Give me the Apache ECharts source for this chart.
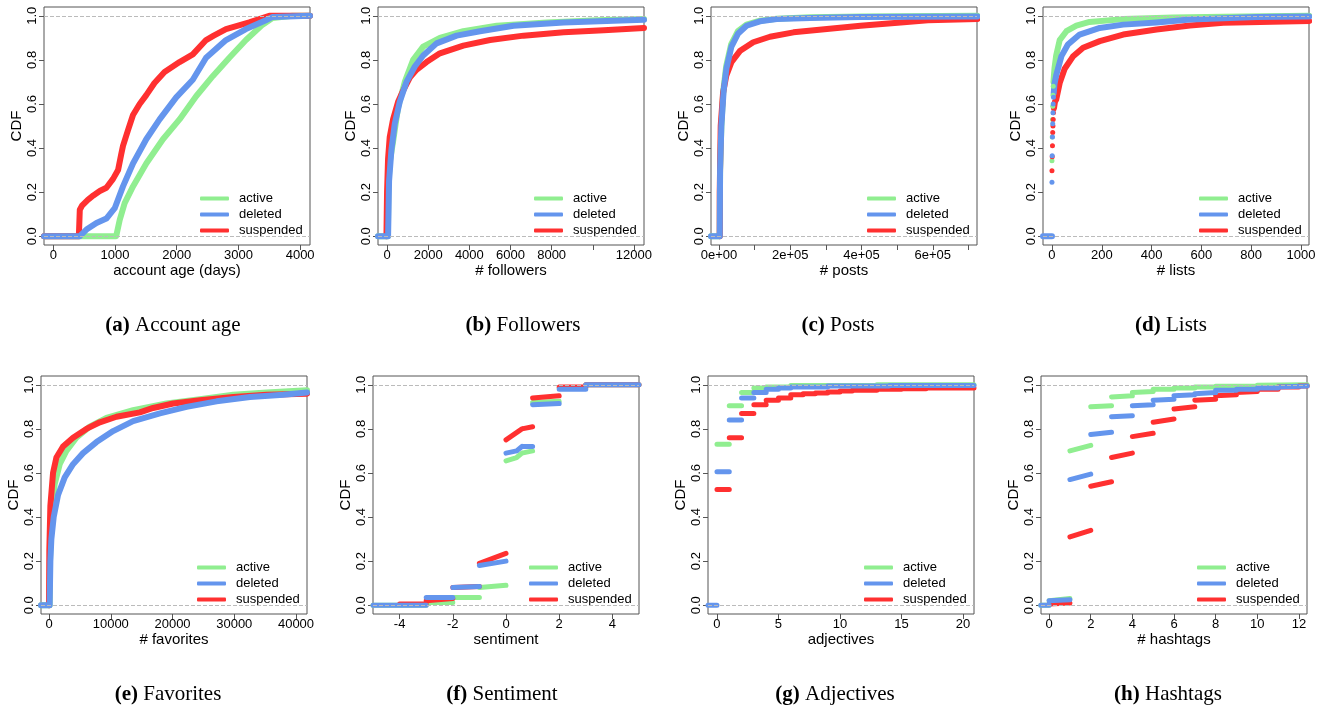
<!DOCTYPE html>
<html>
<head>
<meta charset="utf-8">
<script src="https://cdn.jsdelivr.net/npm/echarts@6/dist/echarts.min.js"></script>
<style>
  html, body { margin: 0; padding: 0; background: #fff; }
  #chart { width: 1325px; height: 705px; }
</style>
</head>
<body>
<div id="chart"></div>
<script>
// series names and colours
var groups = ['active', 'deleted', 'suspended'];
var colors = { active: '#90EE90', deleted: '#6495ED', suspended: '#FF3030' };

// (a) account age, [days, cdf]
var ageActive = [[-150, 0], [1020, 0], [1077, 0.074], [1157, 0.15], [1292, 0.226], [1507, 0.33], [1777, 0.44], [2046, 0.53], [2315, 0.635], [2584, 0.726], [2853, 0.81], [3122, 0.89], [3392, 0.96], [3553, 0.99], [3876, 1.0], [4160, 1.0]];
var ageDeleted = [[-150, 0], [430, 0], [538, 0.03], [700, 0.06], [861, 0.08], [996, 0.127], [1130, 0.226], [1292, 0.33], [1507, 0.44], [1723, 0.53], [1992, 0.63], [2261, 0.71], [2476, 0.81], [2799, 0.89], [3122, 0.94], [3445, 0.98], [3553, 0.995], [4160, 1.0]];
var ageSuspended = [[-150, 0], [415, 0], [430, 0.12], [470, 0.14], [560, 0.165], [650, 0.185], [754, 0.205], [861, 0.22], [969, 0.26], [1050, 0.30], [1100, 0.37], [1130, 0.41], [1210, 0.48], [1292, 0.55], [1400, 0.60], [1507, 0.64], [1640, 0.695], [1803, 0.745], [2046, 0.79], [2261, 0.825], [2476, 0.89], [2600, 0.91], [2799, 0.94], [3176, 0.97], [3500, 1.0], [4160, 1.0]];

// (b) followers
var follActive = [[-440, 0], [40, 0], [60, 0.2], [120, 0.33], [293, 0.43], [537, 0.585], [862, 0.70], [1268, 0.80], [1756, 0.86], [2569, 0.90], [3707, 0.93], [5333, 0.955], [7772, 0.97], [10211, 0.98], [12490, 0.985]];
var follDeleted = [[-440, 0], [50, 0], [70, 0.1], [98, 0.25], [211, 0.39], [374, 0.51], [618, 0.61], [943, 0.70], [1350, 0.77], [1756, 0.82], [2407, 0.875], [3382, 0.91], [4520, 0.93], [6146, 0.955], [8585, 0.97], [11024, 0.978], [12490, 0.982]];
var follSuspended = [[-30, 0], [0, 0.2], [49, 0.35], [130, 0.45], [293, 0.53], [537, 0.61], [780, 0.66], [1106, 0.72], [1431, 0.755], [1919, 0.79], [2569, 0.83], [3707, 0.865], [5008, 0.89], [6634, 0.91], [8585, 0.925], [10537, 0.935], [12490, 0.945]];

// (c) posts
var postsActive = [[-22500, 0], [2000, 0], [3000, 0.3], [6600, 0.5], [12000, 0.66], [20000, 0.77], [34000, 0.87], [53000, 0.93], [77000, 0.96], [115000, 0.978], [162000, 0.987], [256000, 0.993], [400000, 0.997], [725000, 1.0]];
var postsDeleted = [[-22500, 0], [2000, 0], [3000, 0.3], [6600, 0.5], [13000, 0.66], [20700, 0.76], [34800, 0.86], [53700, 0.92], [77200, 0.955], [115000, 0.975], [162000, 0.985], [256000, 0.99], [397000, 0.995], [725000, 0.997]];
var postsSuspended = [[2000, 0], [2000, 0.2], [4700, 0.5], [11300, 0.65], [20700, 0.73], [34800, 0.79], [58400, 0.84], [96000, 0.88], [143000, 0.905], [209000, 0.925], [303000, 0.94], [397000, 0.955], [510000, 0.97], [586000, 0.98], [725000, 0.985]];

// (d) lists: single points near zero, then the dense tail
var listsActiveDots = [[0, 0.342], [1, 0.45], [2, 0.53], [3, 0.59], [4, 0.64], [5, 0.68]];
var listsDeletedDots = [[0, 0.245], [1, 0.365], [2, 0.45], [3, 0.51], [4, 0.56], [5, 0.60], [6, 0.63]];
var listsSuspendedDots = [[0, 0.297], [1, 0.36], [2, 0.41], [3, 0.47], [4, 0.50], [5, 0.53], [6, 0.56]];
var listsActive = [[6, 0.70], [10, 0.76], [17, 0.82], [31, 0.89], [58, 0.93], [98, 0.955], [151, 0.972], [286, 0.985], [487, 0.992], [688, 0.996], [1033, 1.0]];
var listsDeleted = [[-36, 0], [0, 0], null, [7, 0.65], [10, 0.69], [17, 0.73], [38, 0.817], [64, 0.87], [111, 0.915], [192, 0.945], [286, 0.96], [420, 0.97], [554, 0.983], [822, 0.995], [1033, 0.997]];
var listsSuspended = [[8, 0.58], [12, 0.61], [17, 0.62], [31, 0.695], [51, 0.76], [84, 0.815], [125, 0.855], [192, 0.885], [286, 0.915], [420, 0.938], [554, 0.956], [688, 0.968], [1033, 0.976]];

// (e) favorites
var favActive = [[-1300, 0], [100, 0], [150, 0.2], [378, 0.4], [919, 0.55], [1730, 0.64], [2810, 0.70], [4430, 0.76], [6590, 0.81], [9300, 0.85], [13620, 0.885], [19030, 0.915], [24430, 0.935], [29840, 0.955], [35240, 0.965], [41780, 0.975]];
var favDeleted = [[-1300, 0], [100, 0], [216, 0.2], [378, 0.3], [757, 0.4], [1460, 0.5], [2540, 0.58], [3890, 0.64], [5510, 0.69], [7680, 0.74], [10380, 0.79], [13620, 0.835], [17950, 0.87], [22270, 0.90], [27140, 0.925], [32540, 0.945], [37950, 0.955], [41780, 0.965]];
var favSuspended = [[0, 0], [50, 0.25], [216, 0.45], [649, 0.6], [1190, 0.67], [2270, 0.72], [3890, 0.76], [6050, 0.80], [8220, 0.83], [10920, 0.855], [14700, 0.875], [16860, 0.895], [20100, 0.915], [24430, 0.93], [29840, 0.945], [35240, 0.955], [41780, 0.96]];

// (f) sentiment, steps [x0, x1, y0, y1]
var sentActive = [[-5, -3, 0, 0], [-3, -2, 0.012, 0.012], [-2, -1, 0.035, 0.035], [-1, 0, 0.08, 0.09], [0, 0.4, 0.655, 0.67], [0.4, 0.6, 0.67, 0.69], [0.6, 1, 0.69, 0.70], [1, 2, 0.92, 0.925], [2, 3, 0.985, 0.985], [3, 5, 1, 1]];
var sentDeleted = [[-5, -3, 0, 0], [-3, -2, 0.035, 0.035], [-2, -1, 0.08, 0.085], [-1, 0, 0.18, 0.20], [0, 0.4, 0.69, 0.70], [0.4, 0.6, 0.70, 0.72], [0.6, 1, 0.72, 0.72], [1, 2, 0.91, 0.915], [2, 3, 0.98, 0.98], [3, 5, 1, 1]];
var sentSuspended = [[-4, -3, 0.005, 0.005], [-3, -2, 0.02, 0.03], [-2, -1, 0.08, 0.085], [-1, 0, 0.19, 0.235], [0, 0.6, 0.75, 0.80], [0.6, 1, 0.80, 0.81], [1, 2, 0.94, 0.95], [2, 3, 0.99, 0.99], [3, 5, 1, 1]];

// (g) adjectives
var adjActive = [[0, 1, 0.73, 0.73], [1, 2, 0.905, 0.905], [2, 3, 0.965, 0.965], [3, 4, 0.985, 0.985], [4, 6, 0.99, 0.99], [6, 13, 0.997, 0.997], [13, 20.9, 1.0, 1.0]];
var adjDeleted = [[-0.73, 0, 0, 0], [0, 1, 0.605, 0.605], [1, 2, 0.84, 0.84], [2, 3, 0.94, 0.94], [3, 4, 0.965, 0.965], [4, 5, 0.98, 0.98], [5, 6, 0.985, 0.985], [6, 9, 0.99, 0.99], [9, 14, 0.995, 0.995], [14, 20.9, 0.997, 0.997]];
var adjSuspended = [[0, 1, 0.525, 0.525], [1, 2, 0.76, 0.76], [2, 3, 0.87, 0.87], [3, 4, 0.91, 0.91], [4, 5, 0.93, 0.93], [5, 6, 0.94, 0.94], [6, 7, 0.955, 0.955], [7, 8, 0.96, 0.96], [8, 9, 0.963, 0.963], [9, 10, 0.967, 0.967], [10, 11, 0.972, 0.972], [11, 13, 0.975, 0.975], [13, 15, 0.98, 0.98], [15, 17, 0.982, 0.982], [17, 20.9, 0.985, 0.985]];

// (h) hashtags
var hashActive = [[-0.4, 0, 0, 0], [0, 1, 0.02, 0.03], [1, 2, 0.70, 0.725], [2, 3, 0.90, 0.905], [3, 4, 0.945, 0.95], [4, 5, 0.965, 0.97], [5, 6, 0.98, 0.98], [6, 7, 0.985, 0.985], [7, 8, 0.99, 0.99], [8, 10, 0.993, 0.995], [10, 12.4, 0.998, 1.0]];
var hashDeleted = [[-0.4, 0, 0, 0], [0, 1, 0.02, 0.025], [1, 2, 0.57, 0.595], [2, 3, 0.775, 0.785], [3, 4, 0.855, 0.86], [4, 5, 0.905, 0.91], [5, 6, 0.93, 0.935], [6, 7, 0.95, 0.955], [7, 8, 0.96, 0.965], [8, 9, 0.975, 0.975], [9, 10, 0.98, 0.98], [10, 11, 0.985, 0.985], [11, 12.4, 0.99, 0.995]];
var hashSuspended = [[0, 1, 0.005, 0.01], [1, 2, 0.31, 0.34], [2, 3, 0.54, 0.56], [3, 4, 0.67, 0.69], [4, 5, 0.765, 0.78], [5, 6, 0.83, 0.845], [6, 7, 0.89, 0.9], [7, 8, 0.93, 0.935], [8, 9, 0.95, 0.955], [9, 10, 0.965, 0.97], [10, 11, 0.98, 0.98], [11, 12, 0.99, 0.99], [12, 12.4, 0.995, 0.995]];

// tick positions
var cdfTicks = [0, 0.2, 0.4, 0.6, 0.8, 1.0];

function steps(segs) {
    var out = [];
    segs.forEach(function (s) {
        out.push([s[0], s[2]], [s[1], s[3]], null);
    });
    return out;
}

var panels = [
    { left: 44, top: 7, min: -150, max: 4160, ticks: [0, 1000, 2000, 3000, 4000], name: 'account age (days)', tag: '(a)', caption: 'Account age', cx: 168,
      lines: [ageActive, ageDeleted, ageSuspended] },
    { left: 378, top: 7, min: -440, max: 12490, ticks: [0, 2000, 4000, 6000, 8000, 10000, 12000], labels: [0, 2000, 4000, 6000, 8000, 12000], name: '# followers', tag: '(b)', caption: 'Followers', cx: 518,
      lines: [follActive, follDeleted, follSuspended] },
    { left: 711, top: 7, min: -22500, max: 724000, ticks: [0, 1e5, 2e5, 3e5, 4e5, 5e5, 6e5, 7e5], labels: [0, 2e5, 4e5, 6e5], sci: true, name: '# posts', tag: '(c)', caption: 'Posts', cx: 833,
      lines: [postsActive, postsDeleted, postsSuspended] },
    { left: 1043, top: 7, min: -36, max: 1032, ticks: [0, 200, 400, 600, 800, 1000], name: '# lists', tag: '(d)', caption: 'Lists', cx: 1166,
      lines: [listsActive, listsDeleted, listsSuspended], dots: [listsActiveDots, listsDeletedDots, listsSuspendedDots] },
    { left: 41, top: 376, min: -1300, max: 41780, ticks: [0, 10000, 20000, 30000, 40000], name: '# favorites', tag: '(e)', caption: 'Favorites', cx: 163,
      lines: [favActive, favDeleted, favSuspended] },
    { left: 373, top: 376, min: -5, max: 5, ticks: [-4, -2, 0, 2, 4], name: 'sentiment', tag: '(f)', caption: 'Sentiment', cx: 497,
      lines: [steps(sentActive), steps(sentDeleted), steps(sentSuspended)], thin: true },
    { left: 708, top: 376, min: -0.73, max: 20.9, ticks: [0, 5, 10, 15, 20], name: 'adjectives', tag: '(g)', caption: 'Adjectives', cx: 830,
      lines: [steps(adjActive), steps(adjDeleted), steps(adjSuspended)], thin: true },
    { left: 1041, top: 376, min: -0.39, max: 12.39, ticks: [0, 2, 4, 6, 8, 10, 12], name: '# hashtags', tag: '(h)', caption: 'Hashtags', cx: 1163,
      lines: [steps(hashActive), steps(hashDeleted), steps(hashSuspended)], thin: true }
];

var sans = 'Liberation Sans';
var serif = 'Liberation Serif';
var axisColor = '#555';

var grids = [], xAxes = [], yAxes = [], series = [], titles = [], legends = [];

panels.forEach(function (p, i) {
    grids.push({ left: p.left, top: p.top, width: 266, height: 238, show: true, borderColor: axisColor, borderWidth: 1, backgroundColor: 'transparent' });

    xAxes.push({
        type: 'value', gridIndex: i, min: p.min, max: p.max,
        name: p.name, nameLocation: 'middle', nameGap: 17,
        nameTextStyle: { fontFamily: sans, fontSize: 15, color: '#000' },
        axisLine: { show: false, onZero: false },
        axisTick: { show: true, length: 5, lineStyle: { color: axisColor }, customValues: p.ticks },
        axisLabel: {
            fontFamily: sans, fontSize: 13, color: '#000', margin: 4,
            customValues: p.labels || p.ticks,
            formatter: function (v) {
                if (p.sci) return v === 0 ? '0e+00' : (v / 1e5) + 'e+05';
                return String(v);
            }
        },
        splitLine: { show: false }
    });

    yAxes.push({
        type: 'value', gridIndex: i, min: -0.04, max: 1.04,
        name: 'CDF', nameLocation: 'middle', nameGap: 20,
        nameTextStyle: { fontFamily: sans, fontSize: 15, color: '#000' },
        axisLine: { show: false, onZero: false },
        axisTick: { show: true, length: 5, lineStyle: { color: axisColor }, customValues: cdfTicks },
        axisLabel: {
            fontFamily: sans, fontSize: 13, color: '#000', rotate: 90, margin: 5,
            customValues: cdfTicks,
            formatter: function (v) { return v.toFixed(1); }
        },
        splitLine: { show: false }
    });

    // dashed reference lines at 0 and 1
    series.push({
        type: 'line', xAxisIndex: i, yAxisIndex: i, data: [], silent: true, z: 1,
        markLine: {
            silent: true, symbol: 'none', label: { show: false }, animation: false,
            lineStyle: { type: 'dashed', color: '#bbb', width: 1 },
            data: [{ yAxis: 0 }, { yAxis: 1 }]
        }
    });

    // draw order: active, suspended, deleted (blue on top)
    [0, 2, 1].forEach(function (k) {
        var g = groups[k];
        series.push({
            type: 'line', name: g, xAxisIndex: i, yAxisIndex: i,
            data: p.lines[k], showSymbol: false, symbol: 'none', connectNulls: false,
            z: 2, silent: true,
            itemStyle: { color: colors[g] },
            lineStyle: { color: colors[g], width: p.thin ? 5 : 6, cap: 'round', join: 'round' }
        });
        if (p.dots) {
            series.push({
                type: 'scatter', name: g, xAxisIndex: i, yAxisIndex: i,
                data: p.dots[k], symbolSize: 5, z: 2, silent: true,
                itemStyle: { color: colors[g], opacity: 1 }
            });
        }
    });

    legends.push({
        left: p.left + 156, top: p.top + 185, orient: 'vertical', padding: 0,
        data: groups, icon: 'roundRect', itemWidth: 29, itemHeight: 4, itemGap: 3,
        selectedMode: false,
        textStyle: { fontFamily: sans, fontSize: 13, color: '#000', padding: [0, 0, 0, 5] }
    });

    titles.push({
        text: '{b|' + p.tag + '} ' + p.caption,
        left: p.cx, textAlign: 'center', top: p.top < 100 ? 310 : 679,
        textStyle: {
            fontFamily: serif, fontSize: 21, fontWeight: 'normal', color: '#000',
            rich: { b: { fontFamily: serif, fontSize: 21, fontWeight: 'bold', color: '#000' } }
        }
    });
});

var chart = echarts.init(document.getElementById('chart'));
chart.setOption({
    animation: false,
    backgroundColor: '#fff',
    title: titles,
    legend: legends,
    grid: grids,
    xAxis: xAxes,
    yAxis: yAxes,
    series: series
});
</script>
</body>
</html>
